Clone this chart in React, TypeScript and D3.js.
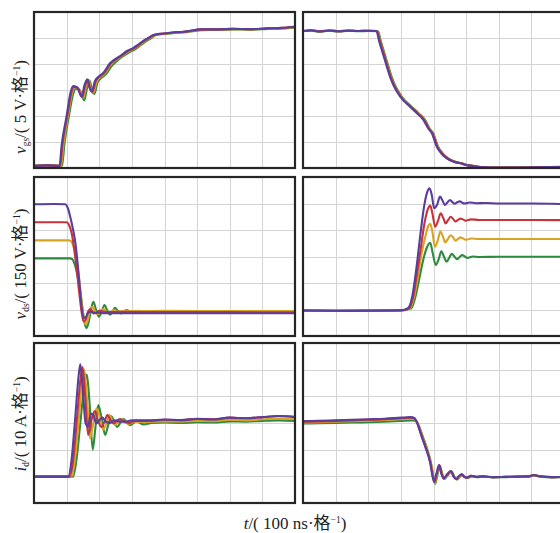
import React from "react";
import * as d3 from "d3";

// time axis in ns (100 ns per division), values in divisions (格)
const timeDomain = [0, 800];
const valueDomain = [0, 6];
const seriesNames = ["green", "gold", "red", "purple"];
const seriesColors = ["#2e8a3e", "#d8a323", "#c4343c", "#5b3d9c"];

// Panel 1: v_gs turn-on
const vgsOnGreen: [number, number][] = [[0,0.08],[40,0.1],[86,0.08],[93,0.9],[107,2.0],[119,2.8],[128,3.05],[140,3.0],[154,2.6],[163,3.1],[171,3.35],[178,2.95],[185,2.85],[195,3.3],[205,3.45],[220,3.6],[240,3.95],[257,4.15],[271,4.28],[292,4.45],[312,4.58],[327,4.72],[343,4.87],[357,4.98],[372,5.1],[390,5.15],[412,5.17],[435,5.2],[462,5.22],[485,5.26],[512,5.3],[562,5.31],[612,5.33],[662,5.32],[715,5.35],[760,5.37],[800,5.4]];
const vgsOnGold: [number, number][] = [[0,0.08],[40,0.1],[83,0.08],[90,0.9],[104,2.0],[116,2.85],[125,3.1],[137,3.05],[151,2.7],[160,3.15],[168,3.38],[175,3.0],[182,2.9],[192,3.32],[202,3.48],[217,3.63],[237,4.0],[254,4.18],[268,4.29],[289,4.48],[309,4.6],[324,4.73],[340,4.88],[354,4.99],[370,5.11],[388,5.15],[410,5.17],[432,5.21],[460,5.23],[482,5.27],[510,5.32],[560,5.32],[610,5.34],[660,5.33],[715,5.36],[760,5.38],[800,5.42]];
const vgsOnRed: [number, number][] = [[0,0.08],[40,0.1],[80,0.08],[87,0.9],[102,2.0],[114,2.88],[122,3.12],[134,3.08],[148,2.72],[157,3.18],[165,3.4],[172,3.05],[179,2.92],[189,3.34],[199,3.5],[215,3.65],[235,4.02],[252,4.19],[266,4.3],[287,4.49],[307,4.61],[322,4.74],[338,4.89],[352,5.0],[368,5.12],[387,5.16],[408,5.18],[431,5.22],[459,5.24],[481,5.28],[509,5.33],[560,5.33],[610,5.35],[660,5.34],[715,5.37],[760,5.39],[800,5.43]];
const vgsOnPurple: [number, number][] = [[0,0.08],[40,0.1],[78,0.08],[85,0.9],[100,2.0],[112,2.9],[120,3.15],[132,3.1],[146,2.75],[155,3.2],[163,3.4],[170,3.1],[177,2.95],[187,3.35],[197,3.5],[213,3.67],[233,4.03],[250,4.2],[264,4.3],[285,4.5],[305,4.62],[320,4.75],[336,4.9],[350,5.0],[366,5.12],[385,5.16],[407,5.18],[430,5.22],[458,5.24],[480,5.28],[509,5.33],[560,5.33],[610,5.35],[660,5.34],[715,5.37],[760,5.39],[800,5.43]];

// Panel 2: v_gs turn-off
const vgsOffGreen: [number, number][] = [[0,5.26],[25,5.29],[50,5.24],[80,5.28],[110,5.25],[140,5.28],[170,5.26],[200,5.27],[230,5.26],[238,4.9],[250,4.4],[262,3.9],[272,3.5],[282,3.19],[303,2.74],[333,2.36],[355,2.1],[374,1.85],[389,1.5],[399,1.34],[414,0.82],[429,0.55],[445,0.37],[464,0.25],[486,0.18],[509,0.1],[537,0.05],[574,0.02],[650,0.02],[720,0.03],[800,0.04]];
const vgsOffGold: [number, number][] = [[0,5.27],[25,5.3],[50,5.25],[80,5.29],[110,5.26],[140,5.29],[170,5.27],[200,5.28],[228,5.27],[236,4.9],[248,4.4],[260,3.9],[270,3.5],[280,3.19],[301,2.74],[331,2.36],[353,2.1],[372,1.85],[388,1.5],[398,1.34],[413,0.82],[428,0.55],[444,0.37],[463,0.25],[485,0.18],[508,0.1],[536,0.05],[572,0.02],[650,0.02],[720,0.03],[800,0.04]];
const vgsOffRed: [number, number][] = [[0,5.27],[25,5.29],[50,5.26],[80,5.29],[110,5.26],[140,5.28],[170,5.27],[200,5.28],[227,5.27],[235,4.9],[247,4.4],[259,3.9],[269,3.5],[279,3.19],[300,2.74],[330,2.36],[352,2.1],[371,1.85],[387,1.5],[397,1.34],[412,0.82],[427,0.55],[443,0.37],[462,0.25],[484,0.18],[507,0.1],[535,0.05],[571,0.02],[650,0.02],[720,0.03],[800,0.04]];
const vgsOffPurple: [number, number][] = [[0,5.27],[25,5.3],[50,5.25],[80,5.29],[110,5.26],[140,5.29],[170,5.27],[200,5.28],[225,5.27],[233,4.9],[245,4.4],[257,3.9],[267,3.5],[277,3.19],[298,2.74],[328,2.36],[350,2.1],[369,1.85],[385,1.5],[395,1.34],[410,0.82],[425,0.55],[441,0.37],[460,0.25],[482,0.18],[505,0.1],[533,0.05],[570,0.02],[650,0.02],[720,0.03],[800,0.05]];

// Panel 3: v_ds turn-on
const vdsOnGreen: [number, number][] = [[0,2.93],[110,2.93],[117,2.9],[125,2.7],[133,2.3],[140,1.8],[148,1.1],[155,0.5],[161,0.3],[168,0.55],[175,1.0],[182,1.29],[190,1.0],[199,0.73],[207,0.9],[216,1.17],[225,0.95],[233,0.8],[240,0.9],[248,1.06],[257,0.95],[266,0.85],[275,0.92],[284,0.98],[293,0.92],[302,0.87],[311,0.9],[320,0.95],[335,0.9],[360,0.92],[400,0.92],[500,0.91],[600,0.91],[700,0.91],[800,0.91]];
const vdsOnGold: [number, number][] = [[0,3.61],[108,3.61],[115,3.55],[123,3.3],[131,2.8],[139,2.1],[146,1.3],[152,0.7],[158,0.45],[165,0.6],[172,1.0],[180,1.1],[188,0.9],[196,0.82],[205,0.98],[214,1.02],[223,0.9],[232,0.88],[245,0.98],[260,0.92],[280,0.95],[320,0.94],[400,0.95],[600,0.94],[800,0.94]];
const vdsOnRed: [number, number][] = [[0,4.29],[100,4.29],[107,4.2],[115,3.9],[123,3.3],[131,2.5],[139,1.6],[146,0.9],[152,0.55],[158,0.6],[165,0.9],[173,1.02],[181,0.9],[190,0.88],[200,0.95],[212,0.92],[230,0.9],[260,0.91],[400,0.9],[600,0.9],[800,0.89]];
const vdsOnPurple: [number, number][] = [[0,4.97],[60,4.98],[96,4.97],[103,4.85],[113,4.4],[120,4.0],[127,3.5],[134,2.7],[140,1.9],[146,1.1],[152,0.68],[158,0.7],[166,0.88],[174,0.92],[184,0.85],[195,0.88],[215,0.86],[260,0.86],[400,0.86],[600,0.86],[800,0.86]];

// Panel 4: v_ds turn-off
const vdsOffGreen: [number, number][] = [[0,0.96],[150,0.95],[300,0.96],[332,1.05],[345,1.5],[357,2.2],[369,2.9],[380,3.35],[390,3.52],[398,3.1],[407,2.68],[416,2.9],[424,3.2],[432,3.0],[440,2.8],[448,2.95],[456,3.1],[464,3.0],[472,2.9],[480,2.98],[488,3.05],[496,3.0],[504,2.95],[520,3.0],[540,2.98],[600,2.99],[700,2.99],[800,2.99]];
const vdsOffGold: [number, number][] = [[0,0.96],[150,0.95],[300,0.96],[328,1.05],[341,1.5],[353,2.3],[365,3.2],[376,3.8],[384,4.15],[390,4.23],[397,3.9],[404,3.37],[413,3.6],[421,3.94],[429,3.75],[436,3.53],[444,3.66],[452,3.8],[460,3.72],[467,3.6],[475,3.66],[483,3.72],[491,3.68],[500,3.63],[515,3.68],[540,3.66],[700,3.66],[800,3.66]];
const vdsOffRed: [number, number][] = [[0,0.96],[150,0.95],[300,0.96],[325,1.05],[338,1.5],[350,2.4],[362,3.4],[373,4.3],[383,4.8],[390,4.92],[397,4.6],[405,4.12],[414,4.35],[422,4.63],[430,4.45],[437,4.25],[445,4.38],[453,4.5],[460,4.42],[467,4.32],[475,4.38],[483,4.43],[490,4.4],[498,4.35],[515,4.4],[540,4.38],[700,4.38],[800,4.37]];
const vdsOffPurple: [number, number][] = [[0,0.96],[100,0.95],[200,0.96],[300,0.97],[322,1.05],[335,1.5],[347,2.5],[359,3.75],[370,4.8],[380,5.4],[388,5.57],[395,5.3],[402,4.82],[411,4.95],[420,5.26],[428,5.1],[435,4.94],[443,5.05],[451,5.13],[458,5.05],[465,4.99],[473,5.05],[481,5.08],[488,5.03],[496,5.0],[510,5.04],[530,5.01],[560,5.02],[600,5.0],[700,5.0],[800,4.98]];

// Panel 5: i_d turn-on
const idOnGreen: [number, number][] = [[0,0.99],[120,0.99],[130,1.6],[142,3.0],[154,4.4],[162,4.82],[170,3.8],[180,2.0],[188,2.8],[197,3.67],[207,3.2],[218,2.55],[227,2.9],[237,3.25],[246,3.05],[255,2.85],[264,3.0],[274,3.15],[284,3.02],[294,2.92],[305,3.0],[315,3.08],[325,3.0],[336,2.95],[360,3.0],[400,3.02],[450,3.0],[500,3.03],[550,3.02],[600,3.06],[650,3.05],[700,3.08],[750,3.1],[800,3.08]];
const idOnGold: [number, number][] = [[0,0.99],[115,0.99],[125,1.6],[137,3.1],[148,4.6],[154,5.0],[163,3.8],[172,2.43],[182,3.0],[192,3.55],[202,3.2],[212,2.75],[222,3.0],[231,3.3],[240,3.1],[249,2.92],[258,3.05],[267,3.15],[278,3.03],[290,2.97],[310,3.05],[340,3.03],[400,3.06],[450,3.05],[500,3.08],[550,3.07],[600,3.12],[650,3.1],[700,3.14],[750,3.17],[800,3.15]];
const idOnRed: [number, number][] = [[0,0.99],[110,0.99],[120,1.6],[132,3.2],[143,4.7],[149,5.1],[157,4.0],[166,2.55],[176,3.1],[186,3.45],[196,3.1],[206,2.85],[216,3.05],[225,3.3],[235,3.1],[244,2.98],[254,3.1],[264,3.15],[276,3.05],[290,3.0],[310,3.08],[350,3.08],[400,3.12],[450,3.1],[500,3.15],[550,3.14],[600,3.2],[650,3.18],[700,3.22],[750,3.26],[800,3.23]];
const idOnPurple: [number, number][] = [[0,0.99],[105,0.99],[115,1.6],[127,3.3],[137,4.8],[142,5.2],[150,4.2],[158,3.0],[166,2.85],[174,3.35],[182,3.3],[191,2.98],[200,3.1],[210,3.2],[220,3.05],[232,3.0],[245,3.1],[260,3.06],[280,3.05],[300,3.1],[350,3.1],[400,3.13],[450,3.11],[500,3.16],[550,3.13],[600,3.2],[650,3.18],[700,3.22],[750,3.26],[800,3.22]];

// Panel 6: i_d turn-off
const idOffGreen: [number, number][] = [[0,2.98],[50,2.99],[100,3.0],[150,3.02],[200,3.03],[250,3.05],[300,3.08],[335,3.1],[345,3.08],[355,2.9],[367,2.5],[380,2.05],[394,1.4],[401,0.9],[405,0.72],[412,1.05],[420,1.38],[427,1.08],[434,0.9],[443,1.03],[456,1.18],[464,0.98],[472,0.88],[480,0.98],[489,1.06],[497,0.97],[505,0.94],[518,1.0],[533,0.97],[553,0.99],[583,0.96],[623,0.97],[663,0.98],[693,0.99],[710,1.03],[728,0.99],[763,0.96],[800,0.97]];
const idOffGold: [number, number][] = [[0,3.02],[50,3.03],[100,3.05],[150,3.07],[200,3.09],[250,3.11],[300,3.14],[333,3.16],[343,3.14],[353,2.95],[365,2.52],[378,2.08],[393,1.45],[400,0.95],[404,0.74],[411,1.07],[419,1.4],[426,1.09],[433,0.91],[442,1.04],[455,1.19],[463,0.99],[471,0.89],[479,0.99],[488,1.07],[496,0.97],[504,0.95],[517,1.01],[532,0.97],[552,1.0],[582,0.97],[622,0.98],[662,0.99],[692,1.0],[709,1.04],[727,1.0],[762,0.97],[800,0.98]];
const idOffRed: [number, number][] = [[0,3.05],[50,3.06],[100,3.08],[150,3.1],[200,3.12],[250,3.14],[300,3.18],[331,3.2],[341,3.18],[351,2.98],[363,2.54],[376,2.09],[391,1.48],[398,0.98],[403,0.78],[410,1.09],[418,1.41],[425,1.1],[432,0.92],[441,1.05],[454,1.2],[462,1.0],[470,0.9],[478,1.0],[487,1.08],[495,0.98],[503,0.95],[516,1.02],[531,0.98],[551,1.0],[581,0.97],[621,0.98],[661,0.99],[691,1.0],[708,1.05],[726,1.0],[761,0.97],[800,0.98]];
const idOffPurple: [number, number][] = [[0,3.07],[50,3.08],[100,3.1],[150,3.12],[200,3.14],[250,3.16],[300,3.2],[330,3.22],[340,3.2],[350,3.0],[362,2.55],[375,2.1],[390,1.5],[397,1.0],[402,0.8],[409,1.1],[417,1.42],[424,1.1],[431,0.92],[440,1.05],[453,1.2],[461,1.0],[469,0.9],[477,1.0],[486,1.08],[494,0.98],[502,0.95],[515,1.02],[530,0.98],[550,1.0],[580,0.97],[620,0.98],[660,0.99],[690,1.0],[707,1.05],[725,1.0],[760,0.97],[800,0.98]];

const panelSeries = [
  [vgsOnGreen, vgsOnGold, vgsOnRed, vgsOnPurple],
  [vgsOffGreen, vgsOffGold, vgsOffRed, vgsOffPurple],
  [vdsOnGreen, vdsOnGold, vdsOnRed, vdsOnPurple],
  [vdsOffGreen, vdsOffGold, vdsOffRed, vdsOffPurple],
  [idOnGreen, idOnGold, idOnRed, idOnPurple],
  [idOffGreen, idOffGold, idOffRed, idOffPurple],
];

// layout
const colX: [number, number][] = [[34, 295], [303, 564]];
const rowY: [number, number][] = [[12, 168], [177, 336], [343, 503]];
const xDivisions = 8;
const yDivisions = 6;

const FONT = "Liberation Serif, DejaVu Serif, Noto Sans CJK SC, serif";

function Panel({ idx }: { idx: number }) {
  const row = Math.floor(idx / 2);
  const col = idx % 2;
  const [x0, x1] = colX[col];
  const [y0, y1] = rowY[row];
  const x = d3.scaleLinear().domain(timeDomain).range([x0, x1]);
  const y = d3.scaleLinear().domain(valueDomain).range([y1, y0]);
  const line = d3
    .line<[number, number]>()
    .x((d) => x(d[0]))
    .y((d) => y(d[1]))
    .curve(d3.curveMonotoneX);
  const xTicks = d3.range(1, xDivisions).map((i) => timeDomain[0] + (i * (timeDomain[1] - timeDomain[0])) / xDivisions);
  const yTicks = d3.range(1, yDivisions).map((i) => valueDomain[0] + (i * (valueDomain[1] - valueDomain[0])) / yDivisions);
  const clipId = `clip-${idx}`;
  return (
    <g>
      <defs>
        <clipPath id={clipId}>
          <rect x={x0} y={y0} width={x1 - x0} height={y1 - y0} />
        </clipPath>
      </defs>
      <rect x={x0} y={y0} width={x1 - x0} height={y1 - y0} fill="#fff" />
      <g stroke="#d4d4d4" strokeWidth={1}>
        {xTicks.map((t) => (
          <line key={"vx" + t} x1={Math.round(x(t)) + 0.5} x2={Math.round(x(t)) + 0.5} y1={y0} y2={y1} />
        ))}
        {yTicks.map((t) => (
          <line key={"hy" + t} x1={x0} x2={x1} y1={Math.round(y(t)) + 0.5} y2={Math.round(y(t)) + 0.5} />
        ))}
      </g>
      <g clipPath={`url(#${clipId})`} fill="none">
        {panelSeries[idx].map((s, i) => (
          <path
            key={seriesNames[i]}
            d={line(s) || ""}
            stroke={seriesColors[i]}
            strokeWidth={2.1}
            strokeLinejoin="round"
          />
        ))}
      </g>
      <rect x={x0} y={y0} width={x1 - x0} height={y1 - y0} fill="none" stroke="#262626" strokeWidth={2.2} />
    </g>
  );
}

function YLabel({ cy, v, sub, unit }: { cy: number; v: string; sub: string; unit: string }) {
  return (
    <text
      transform={`translate(26,${cy}) rotate(-90)`}
      textAnchor="middle"
      style={{ fontFamily: FONT }}
      fontSize={17}
      fill="#222"
    >
      <tspan fontStyle="italic">{v}</tspan>
      <tspan fontSize={9.5} dy={3}>{sub}</tspan>
      <tspan dy={-3}>{`/( ${unit}·格`}</tspan>
      <tspan fontSize={9.5} dy={-6.5}>−1</tspan>
      <tspan dy={6.5}>)</tspan>
    </text>
  );
}

export default function App() {
  return (
    <svg
      width={560}
      height={533}
      style={{ position: "absolute", left: 0, top: 0, background: "#fff" }}
    >
      <rect width={560} height={533} fill="#fff" />
      {panelSeries.map((_, i) => (
        <Panel key={i} idx={i} />
      ))}
      <YLabel cy={107} v="v" sub="gs" unit="5 V" />
      <YLabel cy={264} v="v" sub="ds" unit="150 V" />
      <YLabel cy={424} v="i" sub="d" unit="10 A" />
      <text x={295} y={529} textAnchor="middle" style={{ fontFamily: FONT }} fontSize={17} fill="#222">
        <tspan fontStyle="italic">t</tspan>
        <tspan>{"/( 100 ns·格"}</tspan>
        <tspan fontSize={9.5} dy={-6.5}>−1</tspan>
        <tspan dy={6.5}>)</tspan>
      </text>
    </svg>
  );
}
